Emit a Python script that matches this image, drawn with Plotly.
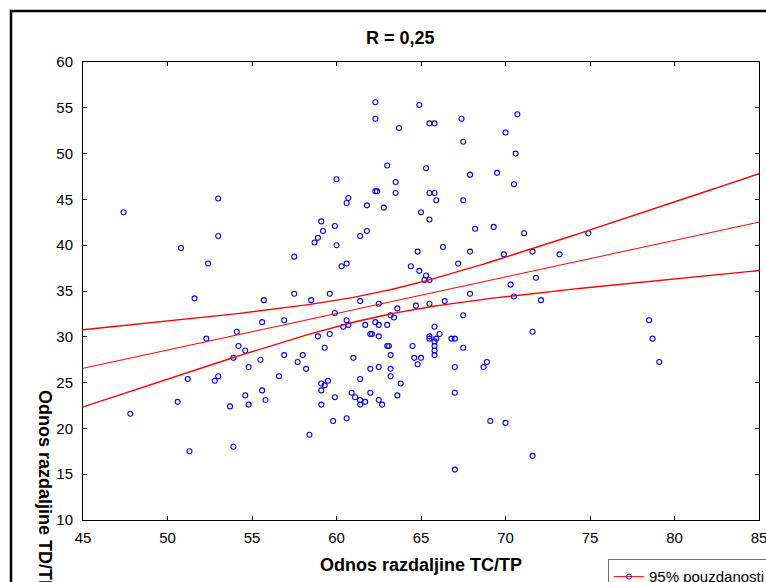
import numpy as np
import plotly.graph_objects as go

# TC/TP ratio (x) vs TD/TP ratio (y)
tc_tp = [
    47.4, 53.0, 53.0, 50.8, 52.4, 51.6, 55.7, 55.6, 54.1, 52.3,
    54.2, 54.6, 53.9, 55.5, 54.8, 51.2, 53.0, 52.8, 56.6, 55.6,
    54.6, 55.8, 50.6, 53.7, 54.8, 47.8, 53.9, 51.3, 62.3, 64.9,
    62.3, 65.5, 65.8, 67.4, 63.7, 67.5, 63.0, 65.3, 67.9, 60.0,
    63.5, 62.3, 62.4, 63.5, 65.5, 65.8, 65.9, 67.5, 60.7, 60.6,
    61.8, 62.8, 65.0, 65.5, 59.1, 59.9, 59.2, 58.9, 58.7, 60.0,
    61.4, 61.8, 66.3, 64.8, 67.9, 57.5, 60.3, 60.6, 64.4, 64.9,
    67.2, 65.3, 65.2, 65.5, 57.5, 59.6, 58.5, 67.9, 70.7, 70.0,
    70.6, 69.5, 70.5, 68.2, 69.3, 71.1, 74.9, 69.9, 71.6, 73.2,
    70.3, 71.8, 70.5, 72.1, 61.4, 62.5, 63.6, 64.7, 65.5, 66.4,
    67.5, 56.9, 59.9, 60.6, 60.4, 60.7, 61.7, 62.3, 62.5, 63.0,
    63.2, 63.4, 58.9, 59.6, 62.0, 62.1, 62.5, 65.8, 65.5, 65.5,
    65.9, 66.1, 65.8, 65.8, 65.8, 65.8, 66.8, 67.0, 67.5, 56.9,
    58.0, 57.7, 58.2, 59.3, 61.0, 63.0, 63.1, 63.2, 62.5, 62.0,
    63.2, 63.2, 64.5, 64.6, 65.0, 64.8, 67.0, 61.4, 59.1, 59.5,
    59.3, 59.1, 63.8, 63.6, 60.9, 62.0, 67.0, 59.9, 61.1, 61.4,
    61.7, 61.4, 62.5, 62.7, 59.1, 60.6, 59.8, 58.4, 67.0, 71.6,
    78.5, 78.7, 79.1, 68.9, 68.7, 69.1, 70.0, 71.6,
]
td_tp = [
    43.6, 45.1, 41.0, 39.7, 38.0, 34.2, 34.0, 31.6, 30.55, 29.8,
    29.0, 28.5, 27.7, 27.5, 26.7, 25.4, 25.7, 25.2, 25.7, 24.15,
    23.6, 23.1, 22.9, 22.4, 22.6, 21.6, 18.0, 17.5, 55.6, 55.3,
    53.8, 53.3, 53.3, 53.8, 52.8, 51.3, 48.7, 48.4, 47.7, 47.2,
    46.9, 45.9, 45.9, 45.7, 45.7, 45.7, 44.9, 44.9, 45.15, 44.6,
    44.35, 44.1, 43.6, 42.8, 42.6, 42.1, 41.55, 40.8, 40.3, 40.0,
    41.0, 41.55, 39.8, 39.3, 39.3, 38.75, 37.7, 38.0, 37.7, 37.2,
    38.0, 36.7, 36.2, 36.2, 34.7, 34.7, 34.0, 34.7, 54.3, 52.3,
    50.0, 47.9, 46.65, 41.8, 42.0, 41.3, 41.3, 39.0, 39.3, 39.0,
    35.7, 36.45, 34.4, 34.0, 33.9, 33.6, 33.1, 33.4, 33.6, 33.9,
    32.35, 31.8, 32.6, 31.8, 31.1, 31.3, 31.3, 31.6, 31.3, 31.3,
    32.35, 32.1, 30.05, 30.3, 30.3, 30.3, 30.05, 31.1, 30.05, 29.8,
    29.8, 30.3, 29.5, 29.0, 28.5, 28.0, 29.8, 29.8, 28.8, 28.0,
    28.0, 27.25, 26.5, 28.8, 27.7, 29.0, 29.0, 28.0, 26.7, 26.5,
    26.5, 25.7, 29.0, 27.7, 27.7, 27.0, 26.7, 25.4, 24.9, 25.2,
    24.7, 24.15, 24.9, 23.6, 23.9, 23.9, 23.9, 23.4, 23.4, 23.1,
    22.9, 22.6, 23.1, 22.6, 22.6, 21.1, 20.8, 19.3, 15.5, 30.55,
    31.8, 29.8, 27.25, 27.25, 26.7, 20.8, 20.6, 17.0,
]

x_ticks = [45, 50, 55, 60, 65, 70, 75, 80, 85]
y_ticks = [10, 15, 20, 25, 30, 35, 40, 45, 50, 55, 60]

FONT = "Liberation Sans, Arial, sans-serif"

# linear fit + 95% confidence band of the mean
x = np.array(tc_tp)
y = np.array(td_tp)
n = len(x)
slope, intercept = np.polyfit(x, y, 1)
r = np.corrcoef(x, y)[0, 1]
print("n =", n, "R =", round(r, 3), "fit:", round(intercept, 2), round(slope, 3))

grid = np.linspace(45, 85, 161)
fit = intercept + slope * grid
resid = y - (intercept + slope * x)
s = np.sqrt(np.sum(resid ** 2) / (n - 2))
sxx = np.sum((x - x.mean()) ** 2)
half = 1.973 * s * np.sqrt(1 / n + (grid - x.mean()) ** 2 / sxx)

fig = go.Figure()
fig.add_trace(go.Scatter(x=x, y=y, mode="markers", showlegend=False,
                         marker=dict(symbol="circle-open", size=5, color="#0000ff",
                                     line=dict(width=1.1))))
fig.add_trace(go.Scatter(x=grid, y=fit + half, mode="lines", showlegend=False,
                         line=dict(color="#ff0000", width=1.4)))
fig.add_trace(go.Scatter(x=grid, y=fit, mode="lines", showlegend=False,
                         line=dict(color="#ff0000", width=1)))
fig.add_trace(go.Scatter(x=grid, y=fit - half, mode="lines", showlegend=False,
                         line=dict(color="#ff0000", width=1.4)))
# legend entry only
fig.add_trace(go.Scatter(x=[None], y=[None], mode="lines+markers", name="95% pouzdanosti",
                         line=dict(color="#ff0000", width=1),
                         marker=dict(symbol="circle-open", size=5, color="#0000ff")))

axis_style = dict(showline=True, linecolor="black", linewidth=1, mirror="ticks",
                  ticks="inside", ticklen=4, tickcolor="black", showgrid=False,
                  zeroline=False, ticklabeloverflow="allow",
                  tickfont=dict(family=FONT, size=15, color="black"))

fig.update_xaxes(range=[45, 85], tickvals=x_ticks, ticklabelstandoff=4,
                 title=dict(text="<b>Odnos razdaljine TC/TP</b>", standoff=13,
                            font=dict(family=FONT, size=18, color="black")),
                 **axis_style)
fig.update_yaxes(range=[10, 60], tickvals=y_ticks, ticklabelstandoff=6, **axis_style)

fig.update_layout(
    width=766, height=582,
    margin=dict(l=83, r=7, t=62, b=62, autoexpand=False),
    paper_bgcolor="white", plot_bgcolor="white",
    font=dict(family=FONT, color="black"),
    legend=dict(x=0.7766, y=-0.086, xanchor="left", yanchor="top",
                bordercolor="#707070", borderwidth=1, bgcolor="white",
                font=dict(family=FONT, size=15, color="black")),
    annotations=[
        dict(text="<b>R = 0,25</b>", xref="paper", yref="paper", x=0.469, y=1.0524,
             xanchor="center", yanchor="middle", showarrow=False,
             font=dict(family=FONT, size=18, color="black")),
        dict(text="<b>Odnos razdaljine TD/TP</b>", xref="paper", yref="paper",
             x=-0.0562, y=0.288, xanchor="center", yanchor="top", textangle=90,
             showarrow=False, font=dict(family=FONT, size=18, color="black")),
    ],
    shapes=[
        dict(type="rect", xref="paper", yref="paper", x0=-0.1065, y0=-0.2,
             x1=1.1, y1=1.1114, line=dict(color="black", width=2.5)),
    ],
)

fig.write_html("out.html", config={"displayModeBar": False},
               post_script="document.body.style.margin='0';document.body.style.overflow='hidden';")
